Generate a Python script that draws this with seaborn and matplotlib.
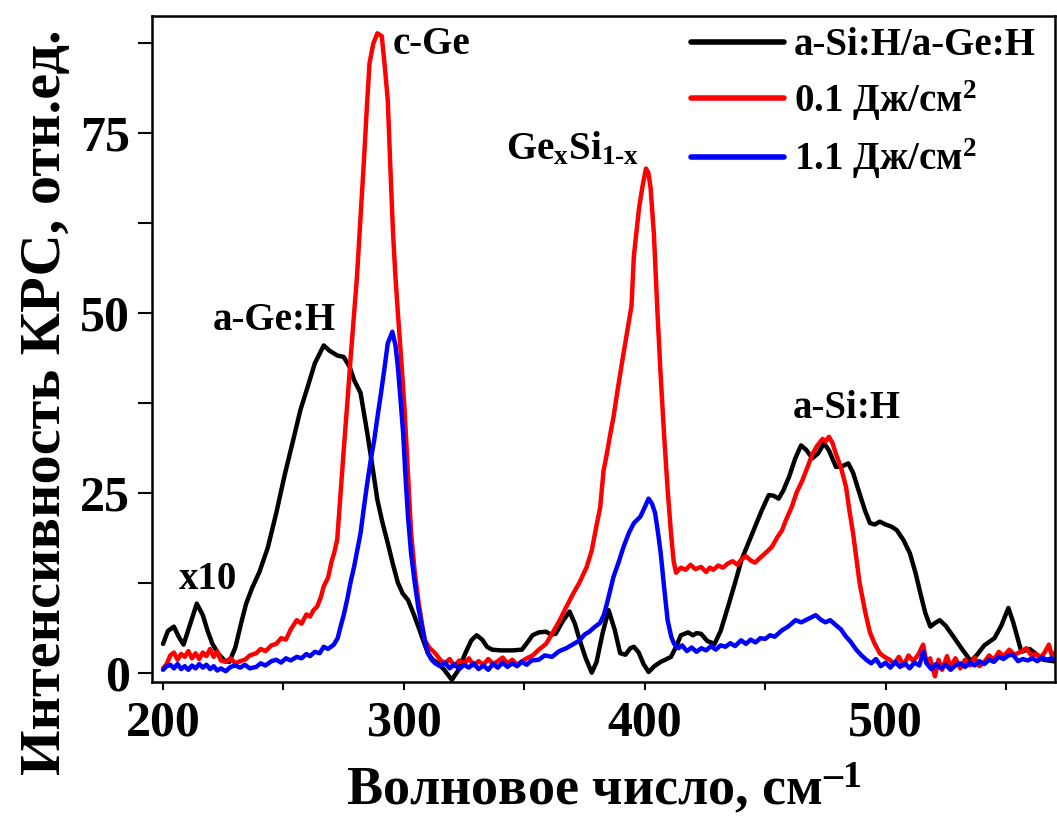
import numpy as np
import matplotlib
matplotlib.use("Agg")
import matplotlib.pyplot as plt
from matplotlib.ticker import MultipleLocator
import seaborn as sns

# ---------------------------------------------------------------------------
# Data (wavenumber, intensity)
# ---------------------------------------------------------------------------
black_x = [200, 202, 204.5, 206.5, 208.5, 211, 214, 216.5, 218.5, 220.5, 223, 225.5, 227.5,
           230, 232.5, 234.5, 237, 240, 243.5, 247, 250.5, 254, 257, 260, 263, 266.7, 269,
           272.3, 275, 277.5, 279.3, 282, 284.8, 287, 289, 291, 293.3, 295.5, 297.5, 299.5,
           301.7, 304, 306, 308, 310, 312, 314.2, 316.5, 319.9, 322.5, 325.5, 328, 330.2,
           332.5, 334.5, 336.6, 340, 345, 349, 351.5, 353.4, 356, 359, 361, 363, 366, 368.8,
           371, 373, 375.5, 378, 380, 382.5, 385, 387.5, 389.8, 392, 394, 395.5, 397.5,
           399.5, 401.6, 404, 406.6, 408.5, 410.9, 413, 415, 418, 420, 421.5, 423.4, 426,
           429, 431.5, 434.6, 437.5, 440.2, 443, 445.8, 448.5, 451.5, 453.5, 455.6, 457.5,
           459.9, 462.5, 464.9, 467, 469.6, 472, 474.4, 476.5, 479.4, 482, 484.5, 486.5,
           489.2, 491.5, 493.5, 495.5, 497.6, 500, 502.5, 504.7, 507.5, 510.1, 512.5, 514.4,
           516.5, 518.6, 520.5, 522.5, 525, 528.4, 531.5, 535.4, 538, 541, 545.2, 548, 551,
           553, 556.4, 559.8, 562.5, 565.4, 569.5, 571]
black_y = [4.0, 5.8, 6.4, 5.0, 3.9, 6.5, 9.6, 8.0, 5.8, 4.0, 2.6, 1.7, 1.5,
           3.5, 7.0, 9.6, 11.8, 14.0, 17.4, 22.2, 27.5, 32.3, 36.5, 39.7, 43.0, 45.5, 44.8,
           44.1, 43.9, 42.5, 40.7, 38.9, 33.3, 28.5, 24.0, 21.0, 18.0, 15.0, 12.5, 11.0,
           10.1, 8.2, 6.4, 4.5, 2.7, 1.8, 1.3, 0.5, -1.0, 0.3, 2.7, 4.5, 5.2,
           4.6, 3.6, 3.2, 3.1, 3.1, 3.2, 4.3, 5.2, 5.6, 5.7, 5.3, 5.4, 7.2, 8.5,
           6.8, 4.5, 2.0, 0.0, 1.5, 5.5, 8.7, 6.0, 2.7, 2.5, 3.4, 3.6, 2.8,
           1.2, 0.1, 0.9, 1.5, 1.8, 2.2, 3.6, 5.2, 5.6, 5.2, 5.5, 5.4, 4.4,
           4.0, 5.8, 9.2, 12.5, 15.7, 18.0, 20.3, 22.5, 24.7, 24.6, 24.2, 25.3,
           27.2, 29.8, 31.6, 31.0, 29.8, 30.5, 31.9, 30.9, 28.6, 28.7, 29.1, 27.8,
           24.9, 22.5, 20.8, 20.6, 21.0, 20.6, 20.3, 19.8, 18.4, 16.6, 13.8, 11.1,
           8.3, 6.4, 6.9, 7.3, 6.5, 4.9, 3.4, 1.6, 2.5, 3.8, 4.8, 6.5, 9.0,
           7.0, 2.9, 3.3, 2.6, 1.8, 1.6, 1.6]

red_x = [200, 201.5, 203, 204.5, 206, 207.5, 209, 210.5, 212, 213.5, 215, 216.5, 218, 219.5,
         221, 222.5, 224, 226, 228, 230, 232, 234, 236, 238.7, 240.5, 242.5, 245, 247, 249,
         251, 253, 255.5, 257.5, 259.5, 261, 262.5, 264, 265.5, 266.7, 268.5, 270, 271,
         272.3, 273.5, 275, 276.5, 277.9, 279.2, 280.5, 282, 283.4, 284.6, 285.7, 287.3,
         289, 290.8, 292, 293.3, 294.4, 295.5, 296.5, 297.5, 299, 300.3, 301.7, 303, 304.5,
         306, 307.5, 308.7, 310.5, 313, 315, 317, 319, 321, 323, 325, 327, 329, 331, 333,
         335, 337, 339, 341, 343, 345, 347, 349, 351, 353.5, 356, 359, 361.5, 364.7, 367.5,
         370.3, 373, 375.9, 378, 380, 381.5, 382.9, 384.3, 385.7, 387, 388.5, 390.5, 392.6,
         394.5, 395.5, 397.6, 399, 400.5, 401.5, 402.4, 403.8, 405.3, 406.5, 408, 409.5,
         410.9, 412, 413, 415, 417, 419, 421, 423.4, 425.5, 427, 428.5, 430.5, 432.5, 434.6,
         436.5, 438.5, 440, 442, 444, 445.8, 448, 450, 452.8, 455, 457, 459, 461, 463,
         465.4, 467.5, 469.6, 471.5, 473.8, 475.2, 476.5, 478, 479.4, 481.5, 483.6, 485,
         486.5, 488, 489.2, 491.5, 493.5, 495.5, 497.6, 499.5, 501.7, 503.5, 505.5, 507.5,
         509.5, 511.5, 513.5, 515.6, 517, 518.5, 520.5, 522, 523.5, 525.5, 527, 529, 531,
         533, 535, 537, 539, 541, 543, 545, 547, 549, 551.4, 553.5, 555.5, 558.5, 560.5,
         562.5, 564.5, 566, 567.8, 569, 571]
red_y = [0.6, 1.2, 2.4, 2.8, 1.8, 2.6, 2.2, 3.0, 2.0, 2.7, 1.9, 2.8, 2.3, 3.3,
         2.2, 2.9, 1.7, 1.5, 2.0, 1.3, 1.6, 1.8, 2.4, 2.7, 3.3, 3.0, 3.8, 4.0, 4.8,
         4.6, 6.0, 7.3, 6.8, 8.1, 7.8, 8.7, 9.2, 10.5, 12.0, 13.2, 15.5, 16.6,
         18.5, 24.0, 30.9, 37.5, 43.9, 49.5, 55.0, 63.5, 71.2, 78.5, 84.7, 87.5,
         88.9, 88.5, 84.5, 79.6, 70.0, 61.0, 55.0, 50.0, 43.0, 36.4, 27.5, 19.4, 14.0,
         10.0, 6.8, 4.5, 3.5, 2.7, 1.8, 1.3, 1.9, 0.9, 1.7, 1.2, 2.0, 1.0, 1.6, 1.1,
         1.9, 1.2, 1.6, 2.1, 1.3, 1.8, 1.1, 1.6, 2.0, 2.4, 3.2, 4.0, 5.4, 7.3, 9.2,
         11.0, 12.6, 14.7, 17.0, 20.5, 23.0, 28.1, 30.5, 33.2, 35.5, 38.8, 43.0, 47.2,
         51.0, 58.0, 64.5, 67.5, 70.1, 69.5, 67.5, 61.0, 50.0, 42.0, 33.2, 25.5,
         19.4, 15.5, 13.9, 14.6, 14.3, 15.0, 14.4, 14.7, 14.0, 14.6, 14.3, 14.9, 14.6, 15.2,
         15.5, 15.0, 15.7, 16.2, 15.6, 15.3, 16.0, 16.6, 17.5, 18.8, 19.8, 21.5, 23.0, 25.0,
         26.7, 28.5, 30.4, 31.5, 32.5, 32.2, 32.8, 31.9, 30.4, 28.5, 25.8, 22.5,
         19.4, 15.5, 12.5, 8.5, 5.6, 4.0, 2.7, 2.2, 1.8, 1.2, 2.2, 1.0,
         2.4, 1.6, 2.5, 3.9, 1.4, 2.0, -0.5, 1.8, 0.4, 2.3, 0.8, 2.0, 0.6,
         1.8, 1.0, 2.1, 0.9, 1.5, 2.4, 1.8, 2.9, 2.3, 3.2, 2.5, 2.8, 3.4, 2.4,
         2.6, 2.1, 2.8, 3.9, 2.4, 3.0]

blue_x = [200, 201.5, 203, 204.5, 206, 207.5, 209, 210.5, 212, 213.5, 215, 216.5, 218, 219.5,
          221, 222.5, 224, 226, 228, 230, 232, 234, 236, 238.7, 240.5, 242.5, 245, 247, 249,
          251, 253, 255.5, 257.5, 259.5, 261, 263, 265, 266.7, 268.5, 270.9, 272.5, 273.7,
          275, 276.4, 277.8, 279.3, 280.6, 282, 283.4, 284.8, 286.2, 287.7, 289, 290.5, 292,
          293.3, 295.2, 296.5, 297.5, 298.6, 299.7, 300.7, 301.7, 303, 304.5, 306, 307.5,
          308.8, 310, 311.5, 313, 315, 317, 319, 321, 323, 325, 327, 329, 331, 333, 335,
          337, 339, 341, 343, 345, 347, 349, 351, 353, 356, 358.5, 361.5, 364.5, 367.4, 370,
          373, 375, 377, 379, 381.4, 383, 384.3, 385.7, 387, 389, 391.2, 393.5, 395.5, 397,
          398.2, 400, 401.6, 403, 404.3, 405.5, 406.6, 408, 409.5, 411, 412.2, 414, 415.5,
          417.5, 419.5, 421.5, 423.5, 425.5, 427.5, 429.5, 431.5, 433.5, 435.5, 437.5, 440,
          442, 444, 446, 448, 450, 452, 454, 457, 459.5, 462.6, 465, 468, 471, 473, 475, 477,
          479.4, 481.5, 483.6, 485.5, 487.8, 490, 492, 494, 496, 498, 500, 502, 504, 506,
          508, 510, 512, 514, 515.6, 517, 519, 521, 523, 525, 527, 529, 531, 533, 535, 537,
          539, 541, 543, 545, 547, 549, 551, 552.9, 555, 557, 559, 561, 563, 565, 567, 569,
          571]
blue_y = [0.4, 0.9, 1.1, 0.6, 1.2, 0.5, 0.9, 0.4, 1.0, 0.6, 1.2, 0.7, 1.1, 0.5,
          0.9, 0.3, 0.6, 0.2, 0.8, 1.0, 0.7, 1.1, 0.6, 0.8, 1.3, 1.0, 1.6, 1.8, 1.4,
          2.0, 1.7, 2.2, 2.0, 2.6, 2.3, 2.9, 2.7, 3.6, 3.3, 3.9, 4.8, 6.4,
          8.0, 10.1, 12.5, 14.7, 17.0, 19.4, 23.0, 26.4, 29.5, 32.4, 35.5, 38.9, 42.5,
          45.8, 47.4, 45.5, 42.5, 38.0, 33.2, 27.0, 21.7, 16.5, 12.5, 9.0, 6.4,
          4.3, 2.7, 1.8, 1.3, 0.9, 1.4, 0.6, 1.2, 0.5, 1.1, 0.7, 1.3, 0.5, 1.0, 0.4,
          1.2, 0.7, 1.4, 0.8, 1.3, 0.9, 1.5, 1.1, 1.7, 1.8, 2.4, 2.2, 3.0, 3.4, 3.9,
          4.5, 5.3, 5.7, 6.3, 6.9, 8.0, 9.6, 11.5, 13.3, 15.2, 17.5, 19.5, 20.8, 21.3,
          21.7, 23.0, 24.2, 23.5, 22.2, 19.5, 16.7, 12.0, 7.3, 5.0, 4.0, 3.4, 3.8,
          3.0, 3.5, 2.9, 3.4, 3.1, 3.7, 3.2, 3.8, 3.6, 4.1, 3.7, 4.5,
          4.0, 4.6, 4.2, 4.8, 4.7, 5.2, 5.0, 5.9, 6.4, 7.3, 7.0, 7.5, 8.0, 7.4, 7.0, 7.3,
          6.6, 6.0, 5.0, 4.3, 3.2, 2.4, 1.8, 1.3, 1.9, 0.9, 1.4, 0.7, 1.5, 0.8,
          1.3, 0.6, 1.4, 1.0, 2.9, 1.3, 0.5, 1.2, 0.6, 1.1, 0.4, 1.0, 1.3, 0.8, 1.4, 1.0,
          1.6, 1.2, 1.8, 1.5, 2.2, 1.9, 2.4, 2.5, 1.6, 1.9, 1.7, 2.0, 1.6, 2.1, 1.8, 2.0,
          1.7]

series_labels = ['a-Si:H/a-Ge:H', '0.1 Дж/см$^\\text{2}$', '1.1 Дж/см$^\\text{2}$']
series_colors = ['black', '#ff0000', '#0000ff']

x_ticks = [200, 300, 400, 500]
y_ticks = [0, 25, 50, 75]

# ---------------------------------------------------------------------------
# Style
# ---------------------------------------------------------------------------
sns.set_style('ticks')
plt.rcParams['font.family'] = ['Liberation Serif', 'DejaVu Serif']
plt.rcParams['font.weight'] = 'bold'
plt.rcParams['mathtext.fontset'] = 'custom'
plt.rcParams['mathtext.rm'] = 'Liberation Serif:bold'
plt.rcParams['mathtext.it'] = 'Liberation Serif:bold'
plt.rcParams['mathtext.bf'] = 'Liberation Serif:bold'
plt.rcParams['mathtext.default'] = 'rm'
for key in ['text.color', 'axes.labelcolor', 'xtick.color', 'ytick.color', 'axes.edgecolor']:
    plt.rcParams[key] = 'black'

fig = plt.figure(figsize=(10.57, 8.26), dpi=100)
ax = fig.add_axes([0.1438, 0.1743, 0.998 - 0.1438, 0.9806 - 0.1743])

for xs, ys, lab, col in zip([black_x, red_x, blue_x], [black_y, red_y, blue_y],
                            series_labels, series_colors):
    sns.lineplot(x=xs, y=ys, ax=ax, color=col, lw=3.2, label=lab,
                 sort=False, estimator=None)

ax.set_xlim(195.4, 570.3)
ax.set_ylim(-1.3, 91.3)
ax.xaxis.set_minor_locator(MultipleLocator(50))
ax.yaxis.set_minor_locator(MultipleLocator(12.5))
ax.set_xticks(x_ticks)
ax.set_yticks(y_ticks)

for s in ax.spines.values():
    s.set_linewidth(1.8)
    s.set_color('black')
    s.set_visible(True)
ax.tick_params(axis='both', which='both', direction='out', width=1.5, labelsize=36,
               color='black', labelcolor='black')
ax.tick_params(axis='x', which='both', length=6, pad=7)
ax.tick_params(axis='y', which='both', length=10, pad=6)

ax.set_xlabel('Волновое число, см$^\\text{–1}$', fontsize=39, fontweight='bold', labelpad=12)
ax.set_ylabel('Интенсивность КРС, отн.ед.', fontsize=42, fontweight='bold')
ax.yaxis.set_label_coords(-0.089, 0.42)

# peak annotations
ax.text(295.5, 87.3, 'c-Ge', fontsize=28, fontweight='bold', va='center', ha='left')
ax.text(342.5, 72.8, 'Ge$_\\text{x}$Si$_\\text{1-x}$', fontsize=28, fontweight='bold',
        va='center', ha='left')
ax.text(220.5, 49.0, 'a-Ge:H', fontsize=28, fontweight='bold', va='center', ha='left')
ax.text(461.5, 36.8, 'a-Si:H', fontsize=28, fontweight='bold', va='center', ha='left')
ax.text(206.5, 13.0, 'x10', fontsize=28, fontweight='bold', va='center', ha='left')

leg = ax.legend(loc='upper right', bbox_to_anchor=(1.0, 1.012), frameon=False,
                fontsize=28, handlelength=2.4, handletextpad=0.25, labelspacing=0.36,
                borderaxespad=0.1)
for line in leg.get_lines():
    line.set_linewidth(4)

fig.savefig('out.png', dpi=100)
